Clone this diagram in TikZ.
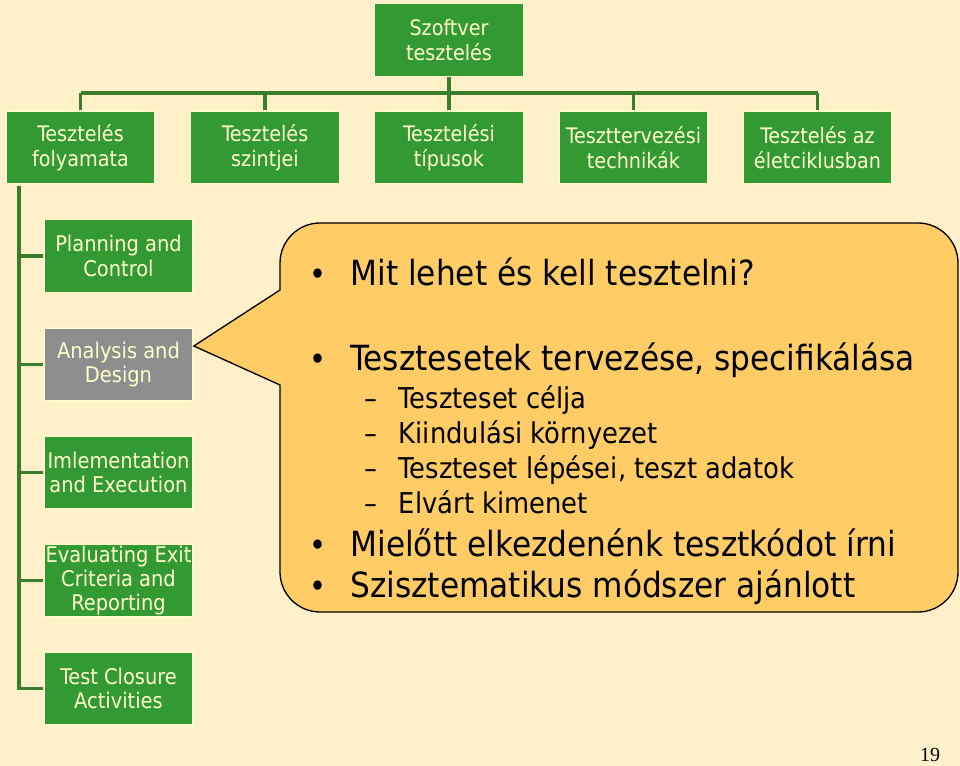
\documentclass[tikz,border=0pt]{standalone}
\usepackage{fontspec}
\setmainfont{DejaVu Sans Condensed}
\newfontfamily\pagefont{Liberation Serif}
\usetikzlibrary{positioning}

\definecolor{bgcream}{HTML}{FEF0C9}
\definecolor{boxgreen}{HTML}{339933}
\definecolor{boxgray}{HTML}{8E8E8E}
\definecolor{linegreen}{HTML}{3A7D2C}
\definecolor{boxtext}{HTML}{FFFFCC}
\definecolor{calloutfill}{HTML}{FFCC66}

\tikzset{every picture/.style={line width=0.75pt}}
\tikzset{
  greenbox/.style={fill=boxgreen, draw=boxtext!70!bgcream, line width=1.2pt, text=boxtext,
    minimum width=111.75pt, minimum height=54.75pt, inner sep=0pt, align=center,
    font=\fontsize{16}{18.8}\selectfont},
  sidebox/.style={greenbox, font=\fontsize{16.2}{18.2}\selectfont},
  graybox/.style={sidebox, fill=boxgray},
  conn/.style={draw=linegreen, line width=2.8pt},
  mainitem/.style={anchor=base west, inner sep=0pt, font=\fontsize{26}{31}\selectfont},
  subitem/.style={anchor=base west, inner sep=0pt, font=\fontsize{21.5}{25}\selectfont},
  dot/.style={anchor=base, inner sep=0pt, font=\fontsize{24}{30}\selectfont}
}

\begin{document}
\begin{tikzpicture}[x=0.75pt,y=0.75pt,yscale=-1,xscale=1]
\fill[bgcream] (0,0) rectangle (960,766);
\useasboundingbox (0,0) rectangle (960,766);

% Text Node
\node[greenbox] (top) at (449,40) {Szoftver\\tesztelés};
% Text Node
\node[greenbox] (r1) at (80.5,147.5) {Tesztelés\\folyamata};
\node[greenbox] (r2) at (265,147.5) {Tesztelés\\szintjei};
\node[greenbox] (r3) at (449,147.5) {Tesztelési\\típusok};
\node[greenbox] (r4) at (633.5,147.5) {Teszttervezési\\technikák};
\node[greenbox] (r5) at (817.5,147.5) {Tesztelés az\\életciklusban};
% Text Node
\node[sidebox] (plan) at (118.5,256) {Planning and\\Control};
\node[graybox] (anal) at (118.5,364.5) {Analysis and\\Design};
\node[sidebox] (impl) at (118.5,472.5) {Imlementation\\and Execution};
\node[sidebox] (eval) at (118.5,580.5) {Evaluating Exit\\Criteria and\\Reporting};
\node[sidebox] (closure) at (118.5,688.5) {Test Closure\\Activities};

% Connection
\coordinate (bar) at (449,93);
\draw[conn] (top.south) -- (bar);
\draw[conn] (bar -| r1.north) -- (bar -| r5.north);
\foreach \b in {r1,r2,r3,r4,r5}
  \draw[conn] (bar -| \b.north) -- (\b.north);
% Connection
\coordinate (spine) at (19,186);
\draw[conn] (spine) |- (closure.west);
\foreach \b in {plan,anal,impl,eval}
  \draw[conn] (spine |- \b.west) -- (\b.west);

% Callout
\draw[fill=calloutfill, draw=black, line width=1pt]
  (anal.east |- 0,346) -- (280,290) -- (280,263) .. controls (280,241) and (298,223) .. (320,223)
  -- (918,223) .. controls (940,223) and (958,241) .. (958,263)
  -- (958,572) .. controls (958,594) and (940,612) .. (918,612)
  -- (320,612) .. controls (298,612) and (280,594) .. (280,572)
  -- (280,385) -- cycle;

% Text Node
\node[dot] (d1) at (318,286) {\textbullet};
\node[mainitem] (t1) at (350,286) {Mit lehet és kell tesztelni?};
\node[dot] (d2) at (318,371) {\textbullet};
\node[mainitem] (t2) at (350,371) {Tesztesetek tervezése, specifikálása};
\node[subitem] (s1) at (364,408) {–\hspace{0.75em}Teszteset célja};
\node[subitem] (s2) at (364,443) {–\hspace{0.75em}Kiindulási környezet};
\node[subitem] (s3) at (364,478) {–\hspace{0.75em}Teszteset lépései, teszt adatok};
\node[subitem] (s4) at (364,513) {–\hspace{0.75em}Elvárt kimenet};
\node[dot] (d3) at (318,556) {\textbullet};
\node[mainitem] (t3) at (350,556) {Mielőtt elkezdenénk tesztkódot írni};
\node[dot] (d4) at (318,597) {\textbullet};
\node[mainitem] (t4) at (350,597) {Szisztematikus módszer ajánlott};

% Text Node
\node[inner sep=0pt, font=\pagefont\fontsize{15}{18}\selectfont] (pagenum) at (930,755) {19};

\end{tikzpicture}
\end{document}
